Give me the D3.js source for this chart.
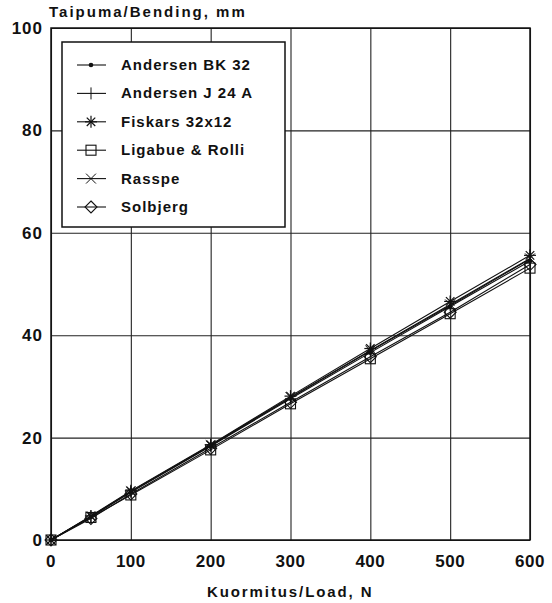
<!DOCTYPE html>
<html>
<head>
<meta charset="utf-8">
<script src="https://cdn.jsdelivr.net/npm/d3@7"></script>
<style>
  body { margin: 0; background: #fff; }
  text { font-family: "Liberation Sans", Arial, sans-serif; font-weight: bold; fill: #111; }
</style>
</head>
<body>
<script>
// Load values, N
var loads = [0, 50, 100, 200, 300, 400, 500, 600];

// Bending, mm
var andersenBK32 = [0, 4.5, 9.3, 18.3, 27.6, 36.6, 45.6, 54.5];
var andersenJ24A = [0, 4.6, 9.4, 18.4, 27.8, 36.9, 45.8, 54.9];
var fiskars = [0, 4.7, 9.6, 18.6, 28.1, 37.4, 46.6, 55.6];
var ligabue = [0, 4.4, 8.8, 17.6, 26.6, 35.4, 44.2, 53.1];
var rasspe = [0, 4.6, 9.5, 18.5, 27.9, 37.0, 46.0, 55.0];
var solbjerg = [0, 4.2, 9.0, 17.9, 26.9, 35.8, 44.5, 53.8];

var seriesNames = ["Andersen BK 32", "Andersen J 24 A", "Fiskars 32x12", "Ligabue & Rolli", "Rasspe", "Solbjerg"];
var seriesValues = [andersenBK32, andersenJ24A, fiskars, ligabue, rasspe, solbjerg];
var seriesMarkers = ["dot", "tick", "star", "square", "cross", "diamond"];

var xTicks = [0, 100, 200, 300, 400, 500, 600];
var yTicks = [0, 20, 40, 60, 80, 100];

var width = 552, height = 603;
// note: "top" is taken by window.top, so plot edges get their own names
var plotLeft = 51, plotRight = 530, plotTop = 28, plotBottom = 540;

var svg = d3.select("body").append("svg")
  .attr("width", width)
  .attr("height", height);

var x = d3.scaleLinear().domain([0, 600]).range([plotLeft, plotRight]);
var y = d3.scaleLinear().domain([0, 100]).range([plotBottom, plotTop]);

// grid
svg.append("g")
  .attr("transform", "translate(0," + plotBottom + ")")
  .call(d3.axisBottom(x).tickValues(xTicks).tickSize(-(plotBottom - plotTop)).tickFormat(""))
  .call(function(g) { g.select(".domain").remove(); })
  .selectAll("line").attr("stroke", "#222").attr("stroke-width", 1.1);

svg.append("g")
  .attr("transform", "translate(" + plotLeft + ",0)")
  .call(d3.axisLeft(y).tickValues(yTicks).tickSize(-(plotRight - plotLeft)).tickFormat(""))
  .call(function(g) { g.select(".domain").remove(); })
  .selectAll("line").attr("stroke", "#222").attr("stroke-width", 1.1);

// frame
svg.append("rect")
  .attr("x", plotLeft).attr("y", plotTop)
  .attr("width", plotRight - plotLeft).attr("height", plotBottom - plotTop)
  .attr("fill", "none").attr("stroke", "#111").attr("stroke-width", 1.5);

// tick labels
svg.selectAll(".xlab").data(xTicks).enter().append("text")
  .attr("class", "xlab")
  .attr("x", function(d) { return x(d); })
  .attr("y", 567)
  .attr("text-anchor", "middle")
  .style("font-size", "17px")
  .style("letter-spacing", "0.5px")
  .text(function(d) { return d; });

svg.selectAll(".ylab").data(yTicks).enter().append("text")
  .attr("class", "ylab")
  .attr("x", 43)
  .attr("y", function(d) { return y(d) + 6; })
  .attr("text-anchor", "end")
  .style("font-size", "17px")
  .style("letter-spacing", "1px")
  .text(function(d) { return d; });

svg.append("text")
  .attr("x", 49).attr("y", 17)
  .style("font-size", "15px")
  .style("letter-spacing", "2px")
  .text("Taipuma/Bending, mm");

svg.append("text")
  .attr("x", 207).attr("y", 597)
  .style("font-size", "15px")
  .style("letter-spacing", "1.9px")
  .text("Kuormitus/Load, N");

// marker drawing
function drawMarker(g, type, cx, cy) {
  if (type == "dot") {
    g.append("circle").attr("cx", cx).attr("cy", cy).attr("r", 2.3).attr("fill", "#111");
  } else if (type == "tick") {
    g.append("line").attr("x1", cx).attr("x2", cx).attr("y1", cy - 6).attr("y2", cy + 6)
      .attr("stroke", "#111").attr("stroke-width", 1);
  } else if (type == "star") {
    [0, 45, 90, 135].forEach(function(a) {
      var r = a * Math.PI / 180, d = 6;
      g.append("line")
        .attr("x1", cx - d * Math.cos(r)).attr("y1", cy - d * Math.sin(r))
        .attr("x2", cx + d * Math.cos(r)).attr("y2", cy + d * Math.sin(r))
        .attr("stroke", "#111").attr("stroke-width", 1.2);
    });
  } else if (type == "square") {
    g.append("rect").attr("x", cx - 5).attr("y", cy - 5).attr("width", 10).attr("height", 10)
      .attr("fill", "none").attr("stroke", "#111").attr("stroke-width", 1.1);
  } else if (type == "cross") {
    [45, 135].forEach(function(a) {
      var r = a * Math.PI / 180, d = 7;
      g.append("line")
        .attr("x1", cx - d * Math.cos(r)).attr("y1", cy - d * Math.sin(r))
        .attr("x2", cx + d * Math.cos(r)).attr("y2", cy + d * Math.sin(r))
        .attr("stroke", "#111").attr("stroke-width", 1);
    });
  } else if (type == "diamond") {
    g.append("path")
      .attr("d", "M" + cx + "," + (cy - 6) + "L" + (cx + 6) + "," + cy + "L" + cx + "," + (cy + 6) + "L" + (cx - 6) + "," + cy + "Z")
      .attr("fill", "none").attr("stroke", "#111").attr("stroke-width", 1.1);
  }
}

// series lines and markers
var line = d3.line()
  .x(function(d) { return x(d[0]); })
  .y(function(d) { return y(d[1]); });

seriesValues.forEach(function(vals, i) {
  var pts = loads.map(function(l, j) { return [l, vals[j]]; });
  var g = svg.append("g");
  g.append("path")
    .attr("d", line(pts))
    .attr("fill", "none")
    .attr("stroke", "#111")
    .attr("stroke-width", 1.1);
  pts.forEach(function(p) { drawMarker(g, seriesMarkers[i], x(p[0]), y(p[1])); });
});

// legend
var legend = svg.append("g");
legend.append("rect")
  .attr("x", 62).attr("y", 42).attr("width", 223).attr("height", 185)
  .attr("fill", "#fff").attr("stroke", "#111").attr("stroke-width", 1.5);

var legendY = d3.scalePoint().domain(seriesNames).range([65, 207]);

seriesNames.forEach(function(name, i) {
  var ly = legendY(name);
  legend.append("line")
    .attr("x1", 77).attr("x2", 106).attr("y1", ly).attr("y2", ly)
    .attr("stroke", "#111").attr("stroke-width", 1.1);
  drawMarker(legend, seriesMarkers[i], 91, ly);
  legend.append("text")
    .attr("x", 121).attr("y", ly + 5)
    .style("font-size", "15px")
    .style("letter-spacing", "1px")
    .text(name);
});
</script>
</body>
</html>
